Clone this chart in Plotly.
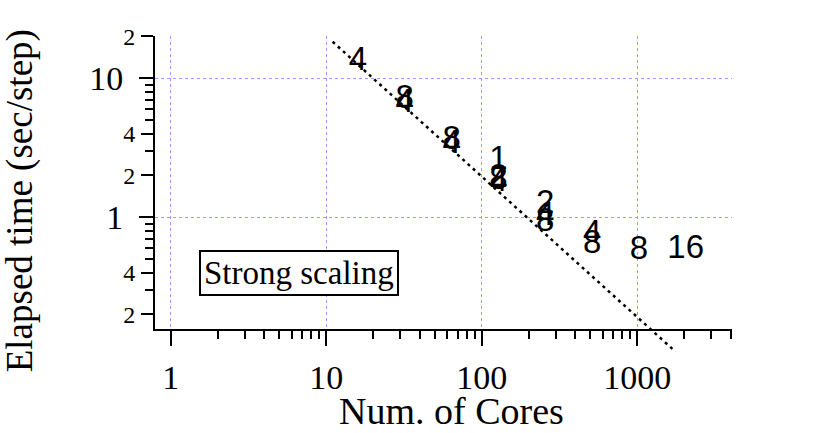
import plotly.graph_objects as go

# Data: elapsed time per step vs number of cores, labelled by a count
cores = [16, 32, 32, 64, 64, 128, 128, 128, 128, 256, 256, 256, 512, 512, 1024, 2048]
times = [13.1, 7.0, 6.55, 3.55, 3.35, 2.55, 1.9, 1.83, 1.76, 1.22, 1.0, 0.92, 0.75, 0.63, 0.573, 0.58]
labels = ["4", "8", "4", "8", "4", "1", "2", "8", "4", "2", "4", "8", "4", "8", "8", "16"]

# ideal scaling guide line
fit_x = [11.0, 1760.0]
fit_y = [18.3, 0.108]

x_major = [1, 10, 100, 1000]
x_major_text = ["1", "10", "100", "1000"]
x_minor = [2, 3, 4, 5, 6, 7, 8, 9, 20, 30, 40, 50, 60, 70, 80, 90,
           200, 300, 400, 500, 600, 700, 800, 900, 2000, 3000, 4000]
y_big = [1, 10]
y_big_text = ["1", "10"]
y_small = [0.2, 0.4, 2, 4, 20]
y_small_text = ["2", "4", "2", "4", "2"]
y_minor = [0.3, 0.5, 0.6, 0.7, 0.8, 0.9, 3, 5, 6, 7, 8, 9]

serif = "Liberation Serif"
sans = "Liberation Sans"
grid_col = "#9a9aff"
xr = [-0.101, 3.609]
yr = [-0.804, 1.304]
yr_ext = [-1.0266, 1.304]   # same scale, extended down so the guide line can pass the axis
dom_main = [0.0957, 1.0]

fig = go.Figure()
fig.add_trace(go.Scatter(
    x=fit_x, y=fit_y, mode="lines", xaxis="x3", yaxis="y3",
    line=dict(color="black", width=2.5, dash="3px,4px"),
    showlegend=False, hoverinfo="skip"))
# empty trace so the overlaid axis (major ticks + grid) is drawn
fig.add_trace(go.Scatter(x=[], y=[], yaxis="y2", showlegend=False, hoverinfo="skip"))
fig.add_trace(go.Scatter(
    x=cores, y=times, mode="text", text=labels,
    textposition="middle center",
    textfont=dict(family=sans, size=33, color="black"),
    showlegend=False))

fig.update_layout(
    width=822, height=433,
    margin=dict(l=155, r=90, t=36, b=73),
    paper_bgcolor="white", plot_bgcolor="rgba(0,0,0,0)",
    xaxis=dict(type="log", range=xr, tickvals=x_major, ticktext=x_major_text,
               anchor="y", automargin=False,
               ticks="outside", ticklen=15, tickwidth=2, tickcolor="black",
               showline=True, linewidth=2, linecolor="black",
               showgrid=True, gridcolor=grid_col, griddash="dot", gridwidth=1,
               zeroline=False, ticklabelstandoff=2,
               tickfont=dict(family=serif, size=34, color="black"),
               minor=dict(tickvals=x_minor, ticks="outside", ticklen=8,
                          tickwidth=2, tickcolor="black", showgrid=False)),
    yaxis=dict(type="log", range=yr, domain=dom_main, anchor="x",
               tickvals=y_small, ticktext=y_small_text, automargin=False,
               ticks="outside", ticklen=12, tickwidth=2, tickcolor="black",
               showline=True, linewidth=2, linecolor="black",
               showgrid=False, zeroline=False, ticklabelstandoff=1,
               tickfont=dict(family=serif, size=24, color="black"),
               minor=dict(tickvals=y_minor, ticks="outside", ticklen=8,
                          tickwidth=2, tickcolor="black", showgrid=False)),
    yaxis2=dict(type="log", range=yr, overlaying="y", side="left", anchor="x",
                tickvals=y_big, ticktext=y_big_text, automargin=False,
                ticks="outside", ticklen=15, tickwidth=2, tickcolor="black",
                showline=False, showgrid=True, gridcolor=grid_col,
                griddash="dot", gridwidth=1, zeroline=False,
                ticklabelstandoff=9,
                tickfont=dict(family=serif, size=34, color="black")),
    xaxis3=dict(type="log", range=xr, domain=[0, 1], anchor="y3",
                visible=False, showgrid=False, zeroline=False),
    yaxis3=dict(type="log", range=yr_ext, domain=[0, 1], anchor="x3",
                visible=False, showgrid=False, zeroline=False),
    annotations=[
        dict(text="Elapsed time (sec/step)", xref="paper", yref="paper",
             x=-0.2335, y=0.4907, xanchor="center", yanchor="middle",
             textangle=-90, showarrow=False,
             font=dict(family=serif, size=37, color="black")),
        dict(text="Num. of Cores", xref="paper", yref="paper",
             x=0.513, y=-0.1574, xanchor="center", yanchor="middle",
             showarrow=False,
             font=dict(family=serif, size=38, color="black")),
        dict(text="Strong scaling", xref="paper", yref="paper",
             x=0.2504, y=0.267, xanchor="center", yanchor="middle",
             showarrow=False, bgcolor="white", bordercolor="black",
             borderwidth=2, borderpad=3,
             font=dict(family=serif, size=33, color="black")),
    ],
)

fig.write_html("out.html", config={"displayModeBar": False},
               post_script="document.body.style.margin='0';document.body.style.padding='0';")
